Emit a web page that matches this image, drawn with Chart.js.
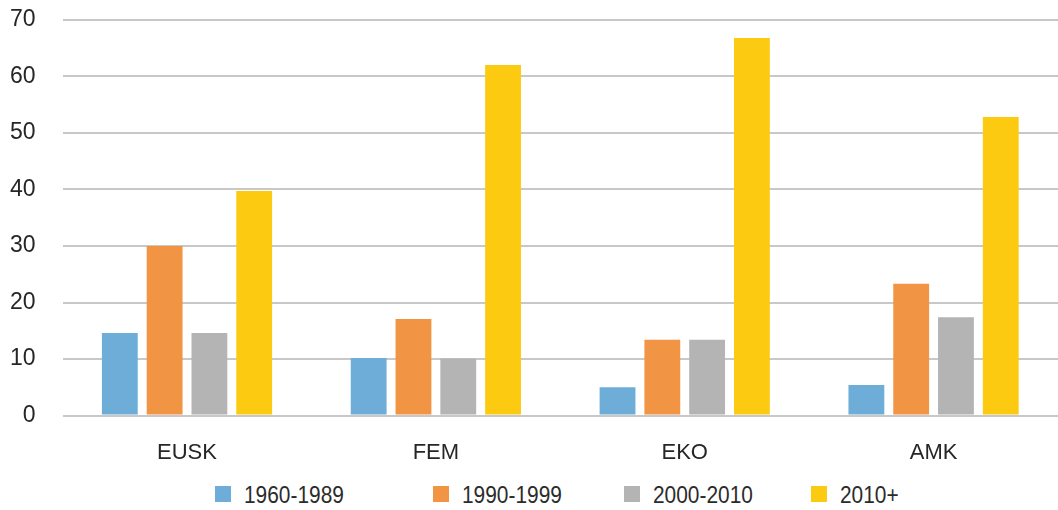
<!DOCTYPE html>
<html>
<head>
<meta charset="utf-8">
<script src="https://cdn.jsdelivr.net/npm/chart.js@4.4.1/dist/chart.umd.min.js"></script>
<style>
  html, body { margin: 0; padding: 0; background: #ffffff; overflow: hidden; }
  #wrap { position: relative; width: 1058px; height: 510px; overflow: hidden; }
  #plot { position: absolute; left: 0; top: -21px; width: 1058px; height: 493px; }
  #legend { position: absolute; left: 0; top: 484px; width: 1058px; height: 22px; }
  .item { position: absolute; top: 0; height: 22px; }
  .box { position: absolute; left: 0; top: 2px; width: 16px; height: 16px; }
  .txt {
    position: absolute; left: 29px; top: -3px; white-space: nowrap;
    font-family: "Liberation Sans", Arial, sans-serif; font-size: 24px; color: #2b2b2b;
    transform: scaleX(0.87); transform-origin: left center;
  }
</style>
</head>
<body>
<div id="wrap">
  <div id="plot"><canvas id="barChart"></canvas></div>
  <div id="legend"></div>
</div>
<script>
// categories and series
const categories = ['EUSK', 'FEM', 'EKO', 'AMK'];
const seriesNames = ['1960-1989', '1990-1999', '2000-2010', '2010+'];
const s1960 = [14.6, 10.2, 5.0, 5.4];
const s1990 = [30.0, 17.1, 13.4, 23.3];
const s2000 = [14.6, 10.1, 13.4, 17.4];
const s2010 = [39.7, 62.0, 66.8, 52.8];
const yTicks = [0, 10, 20, 30, 40, 50, 60, 70];

const colors = ['#6fadd9', '#f19443', '#b4b4b4', '#fdca12'];
const fontFamily = '"Liberation Sans", Arial, sans-serif';

// legend slots (left edge of each box)
const legendLeft = [215, 433, 624, 811];
const legend = document.getElementById('legend');
seriesNames.forEach((name, i) => {
  const item = document.createElement('div');
  item.className = 'item';
  item.style.left = legendLeft[i] + 'px';
  item.innerHTML = `<div class="box" style="background:${colors[i]}"></div><span class="txt">${name}</span>`;
  legend.appendChild(item);
});

const ctx = document.getElementById('barChart').getContext('2d');
const barChart = new Chart(ctx, {
  type: 'bar',
  data: {
    labels: categories,
    datasets: [s1960, s1990, s2000, s2010].map((vals, i) => ({
      label: seriesNames[i],
      data: vals,
      backgroundColor: colors[i],
      borderWidth: 0,
      categoryPercentage: 0.72,
      barPercentage: 0.8
    }))
  },
  options: {
    responsive: true,
    maintainAspectRatio: false,
    animation: false,
    layout: {
      padding: { top: 0, left: -17, right: 0, bottom: -18 }
    },
    scales: {
      x: {
        grid: { display: false, drawTicks: false },
        border: { display: false },
        ticks: {
          color: '#262626',
          font: { family: fontFamily, size: 22 },
          padding: 24
        }
      },
      y: {
        min: 0,
        max: 70,
        afterBuildTicks: (axis) => { axis.ticks = yTicks.map(v => ({ value: v })); },
        grid: { color: '#c8c8c8', lineWidth: 2, drawTicks: false },
        border: { display: false },
        ticks: {
          color: '#262626',
          font: { family: fontFamily, size: 23 },
          padding: 27
        }
      }
    },
    plugins: {
      legend: { display: false },
      tooltip: { enabled: false }
    }
  }
});
</script>
</body>
</html>
